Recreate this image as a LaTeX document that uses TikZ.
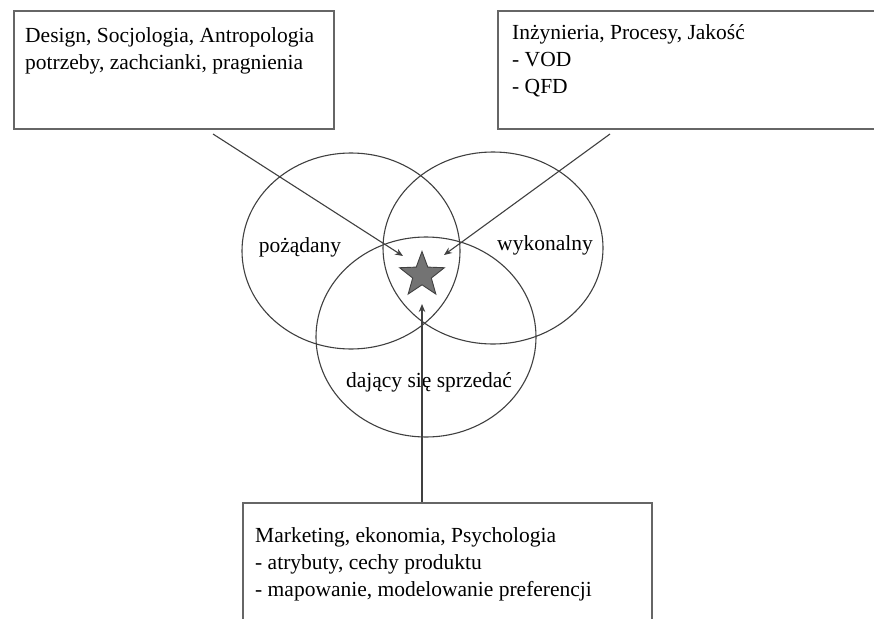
\documentclass[tikz,border=0pt]{standalone}
\usepackage{fontspec}
\setmainfont{Liberation Serif}
\usetikzlibrary{shapes.geometric,arrows.meta}
\begin{document}
\begin{tikzpicture}[x=1pt,y=-1pt,
  box/.style={draw=black!60,line width=1.7pt,fill=white,rectangle,inner sep=0pt,anchor=north west},
  txt/.style={inner sep=0pt,anchor=base west,font=\fontsize{21.5}{27}\selectfont},
  ring/.style={draw=black!75,line width=1.1pt,ellipse,inner sep=0pt},
  lbl/.style={inner sep=0pt,anchor=base,font=\fontsize{21.5}{27}\selectfont},
  arr/.style={draw=black!75,line width=1.1pt,-{Stealth[length=8pt,width=6.5pt]}}]
\useasboundingbox (0,0) rectangle (874,618);
\clip (0,0) rectangle (874,618);
\fill[white] (0,0) rectangle (874,618);

% three overlapping sets
\node[ring,minimum width=218,minimum height=196] (des) at (351,251) {};
\node[ring,minimum width=220,minimum height=192] (fea) at (493,248) {};
\node[ring,minimum width=220,minimum height=200] (sel) at (426,337) {};

\node[lbl] (ldes) at (300,252) {pożądany};
\node[lbl] (lfea) at (545,250) {wykonalny};
\node[lbl] (lsel) at (429,387) {dający się sprzedać};

% star in the common part
\node[star,star points=5,star point ratio=2.4,minimum size=47pt,inner sep=0pt,
      fill=black!55,draw=black!75,line width=0.9pt] (goal) at (422,275) {};

% discipline boxes
\node[box,minimum width=320,minimum height=118] (b1) at (13,10) {};
\node[txt] (t1) at (25,43) {\begin{tabular}[t]{@{}l@{}}Design, Socjologia, Antropologia\\potrzeby, zachcianki, pragnienia\end{tabular}};

\node[box,minimum width=390,minimum height=118] (b2) at (497,10) {};
\node[txt] (t2) at (512,40) {\begin{tabular}[t]{@{}l@{}}Inżynieria, Procesy, Jakość\\- VOD\\- QFD\end{tabular}};

\node[box,minimum width=409,minimum height=140] (b3) at (242,502) {};
\node[txt] (t3) at (255,542) {\begin{tabular}[t]{@{}l@{}}Marketing, ekonomia, Psychologia\\- atrybuty, cechy produktu\\- mapowanie, modelowanie preferencji\end{tabular}};

% connectors
\coordinate (s1) at (213,134);
\coordinate (e1) at (403,256);
\coordinate (s2) at (610,134);
\coordinate (e2) at (444,255);
\coordinate (e3) at (422,304);
\draw[arr] (s1) -- (e1);
\draw[arr] (s2) -- (e2);
\draw[arr] (b3.north -| e3) -- (e3);
\end{tikzpicture}
\end{document}
